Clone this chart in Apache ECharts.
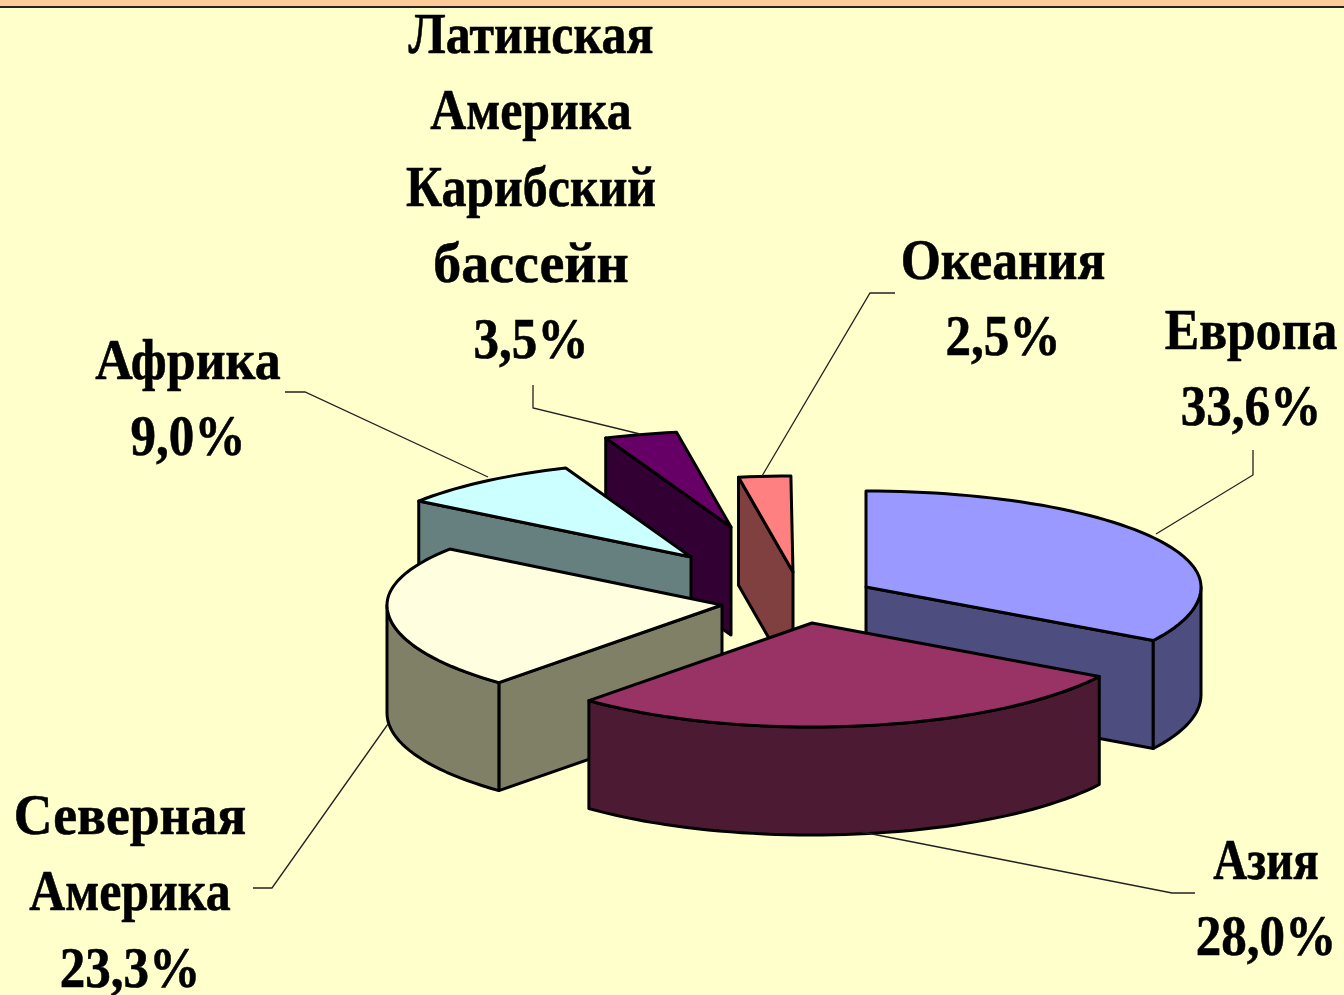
<!DOCTYPE html>
<html>
<head>
<meta charset="utf-8">
<style>html,body{margin:0;padding:0;background:#ffffcc}#c{width:1344px;height:995px}</style>
<script src="https://cdn.jsdelivr.net/npm/echarts@6/dist/echarts.min.js"></script>
</head>
<body>
<div id="c"></div>
<script>
// Data, clockwise from 12 o'clock
const regionLines = [['Европа'], ['Азия'], ['Северная', 'Америка'], ['Африка'], ['Латинская', 'Америка', 'Карибский', 'бассейн'], ['Океания']];
const shares = [33.6, 28.0, 23.3, 9.0, 3.5, 2.5];
// Back-to-front painting order (region indices)
const paintOrder = [4, 3, 5, 0, 2, 1];

// Styles
const topColors = ['#9999ff', '#993366', '#ffffdf', '#ccffff', '#660066', '#ff8080'];
const wallColors = ['#4d4d80', '#4d1a33', '#808066', '#668080', '#330033', '#804040'];

// Layout
const RX = 335, RY_BACK = 96, RY_FRONT = 104, DEPTH = 108;
const apexes = [[866, 587], [812, 623], [722, 605], [691, 557], [731, 527], [793, 572]];
const labelCenters = [[1251, 334], [1266, 864], [130, 819], [188, 364], [531, 38], [1003, 264]];
const LINE_STEP = 76.3;
const TEXT_SCALE_X = 0.86;
const PERCENT_SCALE_X = 0.88;
const lineScaleX = { 'Северная': 0.924, 'бассейн': 0.965, 'Океания': 0.89, 'Европа': 0.89, 'Азия': 0.81, 'Африка': 0.895 };
const leaders = [
  [[1253, 450], [1253, 475], [1156, 534]],
  [[1195, 893], [1172, 893], [862, 832]],
  [[253, 888], [272, 888], [388, 724]],
  [[285, 392], [305, 392], [488, 477]],
  [[533, 385], [533, 408], [640, 434]],
  [[895, 293], [870, 293], [762, 476]]
];
const FONT = 'bold 58px "Liberation Serif", serif';

const rad = d => d * Math.PI / 180;
const percentLabel = v => v.toFixed(1).replace('.', ',') + '%';

function pt(apex, deg, drop) {
  const c = Math.cos(rad(deg));
  return [apex[0] + RX * Math.sin(rad(deg)), apex[1] - (c > 0 ? RY_BACK : RY_FRONT) * c + drop];
}
function arc(apex, from, to, drop) {
  const n = Math.max(2, Math.ceil((to - from) / 2));
  const pts = [];
  for (let i = 0; i <= n; i++) pts.push(pt(apex, from + (to - from) * i / n, drop));
  return pts;
}
function face(points, fill) {
  return { type: 'polygon', shape: { points }, style: { fill, stroke: '#000', lineWidth: 3, lineJoin: 'round' } };
}

function renderItem(params, api) {
  const i = api.value(0);
  const value = api.value(1);
  let before = 0;
  for (let k = 0; k < i; k++) before += shares[k];
  const a0 = before * 3.6, a1 = (before + value) * 3.6;
  const apex = apexes[i];
  const kids = [];
  const wall = wallColors[i];

  if (Math.sin(rad(a0)) < -1e-6) {
    kids.push(face([apex, pt(apex, a0, 0), pt(apex, a0, DEPTH), [apex[0], apex[1] + DEPTH]], wall));
  }
  if (Math.sin(rad(a1)) > 1e-6) {
    kids.push(face([apex, pt(apex, a1, 0), pt(apex, a1, DEPTH), [apex[0], apex[1] + DEPTH]], wall));
  }
  const f0 = Math.max(a0, 90), f1 = Math.min(a1, 270);
  if (f1 > f0) {
    kids.push(face(arc(apex, f0, f1, 0).concat(arc(apex, f0, f1, DEPTH).reverse()), wall));
  }
  kids.push(face([apex].concat(arc(apex, a0, a1, 0)), topColors[i]));

  kids.push({ type: 'polyline', shape: { points: leaders[i] }, style: { fill: 'none', stroke: '#222', lineWidth: 1.3 } });
  const names = regionLines[i];
  const lines = names.concat([percentLabel(value)]);
  lines.forEach((line, n) => {
    const sx = n === names.length ? PERCENT_SCALE_X : (lineScaleX[line] || TEXT_SCALE_X);
    kids.push({
      type: 'text',
      x: labelCenters[i][0],
      y: labelCenters[i][1] + n * LINE_STEP,
      scaleX: sx,
      style: {
        text: line, x: 0, y: 0,
        font: FONT, fill: '#000', stroke: '#000', lineWidth: 0.6,
        textAlign: 'center', textVerticalAlign: 'middle'
      }
    });
  });
  return { type: 'group', children: kids };
}

const chart = echarts.init(document.getElementById('c'), null, { renderer: 'canvas' });
chart.setOption({
  animation: false,
  backgroundColor: '#ffffcc',
  graphic: [
    { type: 'rect', shape: { x: 0, y: 0, width: 1344, height: 7 }, style: { fill: '#ffcc99' } },
    { type: 'rect', shape: { x: 0, y: 6, width: 1344, height: 2 }, style: { fill: '#222' } }
  ],
  series: [{
    type: 'custom',
    coordinateSystem: 'none',
    silent: true,
    renderItem,
    encode: { itemName: 0, value: 1 },
    data: paintOrder.map(i => [i, shares[i]])
  }]
});
</script>
</body>
</html>
